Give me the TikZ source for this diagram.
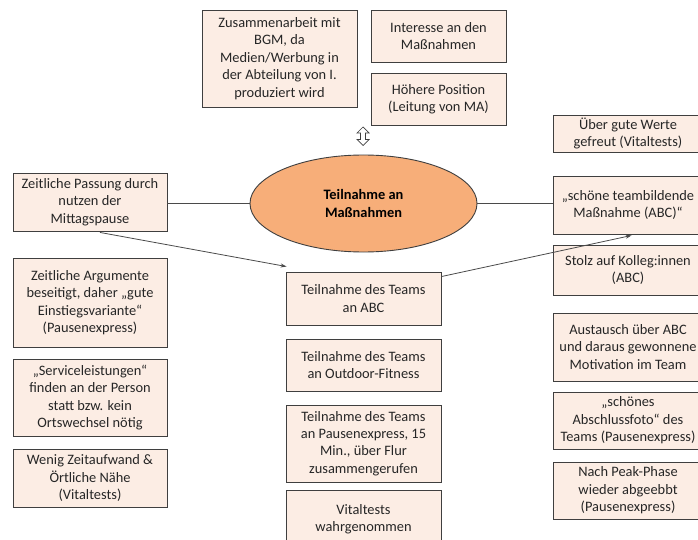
\documentclass[tikz,border=0pt]{standalone}
\usepackage{fontspec}
\setmainfont{Carlito}
\usetikzlibrary{shapes.geometric,arrows.meta,calc}
\definecolor{boxfill}{HTML}{FCEDE4}
\definecolor{boxline}{HTML}{3F3F3F}
\definecolor{ellfill}{HTML}{F7AE79}
\definecolor{conn}{HTML}{4A4A4A}
\tikzset{
  card/.style={draw=boxline, line width=0.9pt, fill=boxfill, rectangle, inner sep=0pt,
    align=center, font=\fontsize{14.4}{17.4}\selectfont, text=black!85},
  link/.style={draw=conn, line width=0.8pt},
  linkarrow/.style={link, -{Stealth[length=6pt,width=4pt]}},
}
\newcommand{\cardat}[6]{% name, x1, y1, x2, y2, text
  \node[card, minimum width={#4-#2}, minimum height={#5-#3}] (#1) at ({(#2+#4)/2},{(#3+#5)/2}) {#6};}
\begin{document}
\begin{tikzpicture}[x=1pt, y=-1pt]
  \useasboundingbox (0,0) rectangle (698,540);
  \clip (0,0) rectangle (698,540);

  % top row
  \cardat{bgm}{202}{10}{357}{107}{Zusammenarbeit mit\\BGM, da\\Medien/Werbung in\\der Abteilung von I.\\produziert wird}
  \cardat{interesse}{371}{10}{506}{62}{Interesse an den\\Maßnahmen}
  \cardat{position}{371}{73}{506}{125}{Höhere Position\\(Leitung von MA)}

  % hollow up-down arrow
  \draw[draw=boxline, line width=0.7pt, fill=white, line join=miter]
    (363,127) -- (369,133) -- (365.5,133) -- (365.5,139.5) -- (369,139.5) -- (363,145.5)
    -- (357,139.5) -- (360.5,139.5) -- (360.5,133) -- (357,133) -- cycle;

  % central ellipse
  \node[ellipse, draw=boxline, line width=0.9pt, fill=ellfill, minimum width=227pt,
        minimum height=97pt, inner sep=0pt, align=center,
        font=\fontsize{14.4}{17.4}\selectfont\bfseries] (ell) at (363.5,203.5)
        {Teilnahme an\\Maßnahmen};

  % left column
  \cardat{passung}{13}{173}{167}{231}{Zeitliche Passung durch\\nutzen der\\Mittagspause}
  \cardat{argumente}{13}{258}{167}{347}{Zeitliche Argumente\\beseitigt, daher „gute\\Einstiegsvariante“\\(Pausenexpress)}
  \cardat{service}{13}{359}{167}{436}{„Serviceleistungen“\\finden an der Person\\statt bzw. kein\\Ortswechsel nötig}
  \cardat{zeitaufwand}{13}{449}{167}{507}{Wenig Zeitaufwand \&\\Örtliche Nähe\\(Vitaltests)}

  % centre column
  \cardat{abc}{286}{272}{441}{325}{Teilnahme des Teams\\an ABC}
  \cardat{outdoor}{286}{339}{441}{391}{Teilnahme des Teams\\an Outdoor-Fitness}
  \cardat{pause}{286}{405}{441}{482}{Teilnahme des Teams\\an Pausenexpress, 15\\Min., über Flur\\zusammengerufen}
  \cardat{vital}{286}{490}{441}{548}{Vitaltests\\wahrgenommen}

  % right column
  \cardat{werte}{553}{115}{703}{152}{Über gute Werte\\gefreut (Vitaltests)}
  \cardat{schoen}{553}{176}{703}{234}{„schöne teambildende\\Maßnahme (ABC)“}
  \cardat{stolz}{553}{245}{703}{295}{Stolz auf Kolleg:innen\\(ABC)}
  \cardat{austausch}{553}{313}{703}{381}{Austausch über ABC\\und daraus gewonnene\\Motivation im Team}
  \cardat{foto}{553}{392}{703}{449}{„schönes\\Abschlussfoto“ des\\Teams (Pausenexpress)}
  \cardat{peak}{553}{462}{703}{519}{Nach Peak-Phase\\wieder abgeebbt\\(Pausenexpress)}

  % connectors
  \draw[link] (passung.east |- ell.west) -- (ell.west);
  \draw[link] (ell.east) -- (schoen.west |- ell.east);
  \coordinate (abcin) at ($(abc.north west)+(1,-5)$);
  \draw[linkarrow] ($(passung.south)+(10,1)$) -- (abcin);
  \coordinate (schoenin) at ($(schoen.south west)+(79,1)$);
  \draw[linkarrow] ($(abc.north east)+(0,5)$) -- (schoenin);
\end{tikzpicture}
\end{document}
